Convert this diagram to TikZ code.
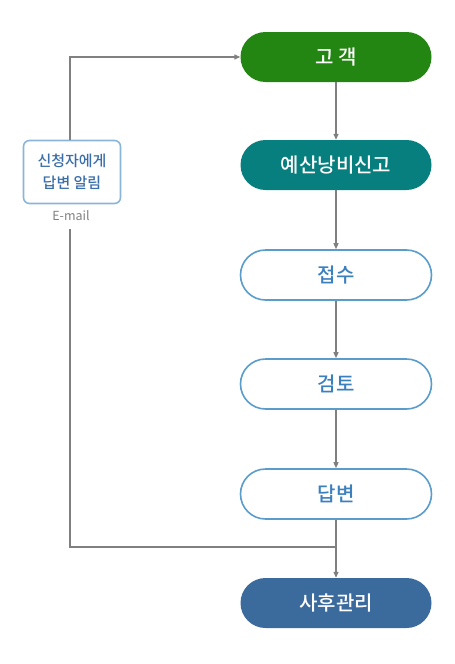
\documentclass[tikz,border=0pt]{standalone}
\usepackage{fontspec}
\setmainfont{Noto Sans CJK KR}[BoldFont={Noto Sans CJK KR Medium}]
\usetikzlibrary{arrows.meta}
\definecolor{cgreen}{HTML}{238612}
\definecolor{cteal}{HTML}{077F7F}
\definecolor{cblue}{HTML}{3B6A9C}
\definecolor{cline}{HTML}{5A9DCB}
\definecolor{ctext}{HTML}{3A80BF}
\definecolor{cbox}{HTML}{8AB5D8}
\definecolor{cboxtext}{HTML}{3A6EA8}
\definecolor{carrow}{HTML}{808080}
\tikzset{
  pill/.style={minimum width=191pt,minimum height=50pt,rounded corners=25pt,inner sep=0pt,font=\fontsize{20}{24}\selectfont\bfseries},
  filledpill/.style={pill,fill=#1,text=white},
  openpill/.style={pill,draw=cline,line width=1.6pt,fill=white,text=ctext},
  notebox/.style={draw=cbox,line width=1.6pt,rounded corners=6pt,minimum width=97pt,minimum height=63pt,align=center,text=cboxtext,font=\fontsize{15}{22}\selectfont\bfseries},
  conn/.style={draw=carrow,line width=1.3pt,-{Triangle[length=6pt,width=5pt]}},
  plain/.style={draw=carrow,line width=1.3pt}
}
\begin{document}
\begin{tikzpicture}[x=1pt,y=-1pt]
\useasboundingbox (0,0) rectangle (455,664);
\node[filledpill=cgreen] (a) at (336,57) {고 객};
\node[filledpill=cteal] (b) at (336,165) {예산낭비신고};
\node[openpill] (c) at (336,275) {접수};
\node[openpill] (d) at (336,384) {검토};
\node[openpill] (e) at (336,494) {답변};
\node[filledpill=cblue] (f) at (336,603) {사후관리};
\node[notebox] (n) at (72,172) {신청자에게\\답변 알림};
\node[text=carrow,font=\fontsize{12.5}{14}\selectfont,inner sep=1pt] (m) at (71,216) {E-mail};
\coordinate (j) at (336,547);
\draw[conn] (a) -- (b);
\draw[conn] (b) -- (c);
\draw[conn] (c) -- (d);
\draw[conn] (d) -- (e);
\draw[conn] (e) -- (f);
\draw[conn] (70,140) |- (a.west);
\draw[plain] (70,229) |- (j);
\end{tikzpicture}
\end{document}
